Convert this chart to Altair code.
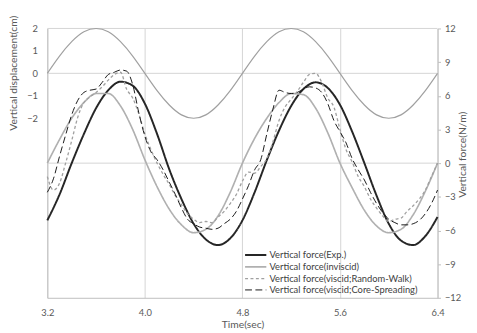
import altair as alt
import pandas as pd

# ---------------- data ----------------
t_coarse = [3.2, 3.3, 3.4, 3.5, 3.6, 3.7, 3.8, 3.9, 4.0, 4.1, 4.2, 4.3, 4.4, 4.5, 4.6, 4.7,
            4.8, 4.9, 5.0, 5.1, 5.2, 5.3, 5.4, 5.5, 5.6, 5.7, 5.8, 5.9, 6.0, 6.1, 6.2, 6.3, 6.4]
t_fine = [round(3.2 + 0.05 * i, 2) for i in range(65)]

displacement = [0.0, 0.77, 1.41, 1.85, 2.0, 1.85, 1.41, 0.77, 0.0, -0.77, -1.41, -1.85, -2.0, -1.85, -1.41, -0.77,
                0.0, 0.77, 1.41, 1.85, 2.0, 1.85, 1.41, 0.77, 0.0, -0.77, -1.41, -1.85, -2.0, -1.85, -1.41, -0.77, 0.0]

force_exp = [-5.1, -2.8, 0.0, 2.6, 4.9, 6.5, 7.26, 6.9, 5.3, 2.6, -0.55, -3.2, -5.4, -6.8, -7.3, -6.7,
             -5.1, -2.6, 0.27, 2.9, 5.1, 6.6, 7.2, 6.7, 5.2, 2.8, 0.0, -2.9, -5.4, -6.9, -7.3, -6.5, -4.8]

force_inviscid = [0.0, 2.1, 4.0, 5.4, 6.2, 6.2, 5.1, 3.0, 0.3, -2.1, -4.1, -5.5, -6.2, -5.9, -4.7, -2.6,
                  0.0, 2.2, 4.0, 5.4, 6.2, 6.1, 4.9, 2.7, 0.0, -2.2, -4.2, -5.6, -6.2, -5.9, -4.6, -2.5, 0.0]

force_random_walk = [-1.2, -2.4, -1.8, 0.0, 2.0, 4.1, 5.4, 5.9, 6.3, 6.8, 7.4, 7.9, 8.1, 6.6, 5.8, 4.4,
                     2.6, 1.2, 0.0, -1.0, -1.9, -2.9, -3.7, -4.5, -5.0, -5.3, -5.2, -5.3, -4.8, -4.3, -3.6, -2.8,
                     -1.6, -0.8, -0.9, -0.3, 0.4, 1.9, 3.8, 5.0, 5.7, 6.4, 7.2, 7.9, 8.0, 7.2, 5.8, 5.0,
                     3.0, 1.2, 0.1, -1.2, -2.1, -3.2, -4.0, -4.7, -5.2, -5.0, -4.9, -4.3, -3.8, -3.2, -2.4, -1.2, 0.0]

force_core_spreading = [-2.6, -1.4, 0.6, 2.5, 4.3, 5.6, 6.3, 6.5, 6.6, 7.2, 7.9, 8.1, 8.3, 8.2, 7.0, 4.5,
                        2.4, 1.0, 0.3, -0.6, -1.7, -2.8, -4.0, -5.0, -5.4, -5.7, -5.8, -5.9, -5.8, -5.4, -5.0, -4.3,
                        -3.2, -2.0, -0.6, 0.3, 2.6, 4.8, 6.5, 6.3, 6.2, 6.3, 6.6, 6.8, 6.7, 6.3, 5.3, 3.8,
                        2.8, 1.8, 0.4, -0.6, -1.5, -2.6, -3.6, -4.4, -5.0, -5.3, -5.5, -5.5, -5.4, -5.1, -4.5, -3.6, -2.4]

series_names = ["Vertical force(Exp.)", "Vertical force(inviscid)",
                "Vertical force(viscid;Random-Walk)", "Vertical force(viscid;Core-Spreading)"]
x_ticks = [3.2, 4.0, 4.8, 5.6, 6.4]
left_ticks = [2, 1, 0, -1, -2]
right_ticks = [-12, -9, -6, -3, 0, 3, 6, 9, 12]
left_grid = [2, 0]
right_grid = [0]

# ---------------- styles ----------------
FONT = "Lato, Liberation Sans, sans-serif"
GRID = "#d4d4d4"
AXIS = "#bfbfbf"
TXT = "#595959"
series_colors = ["#262626", "#b0b0b0", "#a0a0a0", "#1a1a1a"]
series_dash = [[1, 0], [1, 0], [3, 2.5], [7, 3.5]]
series_width = [2.0, 1.0, 1.2, 2.6]

# ---------------- tables ----------------
disp_df = pd.DataFrame({"t": t_coarse, "d": displacement})
parts = [
    pd.DataFrame({"t": t_coarse, "F": force_exp, "series": series_names[0], "o": 0}),
    pd.DataFrame({"t": t_coarse, "F": force_inviscid, "series": series_names[1], "o": 1}),
    pd.DataFrame({"t": t_fine, "F": force_random_walk, "series": series_names[2], "o": 2}),
    pd.DataFrame({"t": t_fine, "F": force_core_spreading, "series": series_names[3], "o": 3}),
]
force_df = pd.concat(parts, ignore_index=True)

x_enc = alt.X("t:Q",
              scale=alt.Scale(domain=[3.2, 6.4], nice=False, zero=False),
              axis=alt.Axis(values=x_ticks, format=".1f", title="Time(sec)", grid=True,
                            gridColor=GRID, tickSize=0, ticks=False, domainColor=AXIS,
                            labelFlush=False, labelPadding=10, titleY=22, titleBaseline="top"))

disp_scale = alt.Scale(domain=[-10, 2], nice=False, zero=False)
force_scale = alt.Scale(domain=[-12, 12], nice=False, zero=False)

disp_grid = alt.Chart(pd.DataFrame({"d": left_grid})).mark_rule(color=GRID, strokeWidth=1).encode(
    y=alt.Y("d:Q", scale=disp_scale, axis=None))
force_grid = alt.Chart(pd.DataFrame({"F": right_grid})).mark_rule(color=GRID, strokeWidth=1).encode(
    y=alt.Y("F:Q", scale=force_scale, axis=None))

disp_line = alt.Chart(disp_df).mark_line(color="#a0a0a0", strokeWidth=1.2, interpolate="natural").encode(
    x=x_enc,
    y=alt.Y("d:Q", scale=disp_scale,
            axis=alt.Axis(orient="left", values=left_ticks, title="Vertical displacement(cm)",
                          grid=False, ticks=False, tickSize=0, labelPadding=10, domainColor=AXIS,
                          labelFlush=False,
                          titleX=-34, titleY=45, titleAngle=-90, titleAlign="center",
                          titleBaseline="middle")))

legend = alt.Legend(title=None, orient="none", legendX=206.5, legendY=225,
                    symbolType="M -2.4 0 L 2.4 0", symbolSize=81, labelOffset=8.5,
                    rowPadding=2, padding=0, labelFont=FONT, labelFontSize=9.5, labelLimit=400,
                    labelColor="#404040", symbolFillColor="transparent")

force_lines = alt.Chart(force_df).mark_line(interpolate="monotone").encode(
    x=x_enc,
    y=alt.Y("F:Q", scale=force_scale,
            axis=alt.Axis(orient="right", values=right_ticks, title="Vertical force(N/m)",
                          grid=False, tickSize=3, tickColor=AXIS, labelPadding=4, domainColor=AXIS,
                          labelFlush=False,
                          titleX=25, titleY=128, titleAngle=-90, titleAlign="center",
                          titleBaseline="middle")),
    color=alt.Color("series:N", scale=alt.Scale(domain=series_names, range=series_colors), legend=legend),
    strokeDash=alt.StrokeDash("series:N", scale=alt.Scale(domain=series_names, range=series_dash), legend=legend),
    strokeWidth=alt.StrokeWidth("series:N", scale=alt.Scale(domain=series_names, range=series_width), legend=legend),
    order="o:Q",
)

chart = alt.layer(disp_grid, force_grid, disp_line, force_lines).resolve_scale(
    y="independent"
).properties(
    width=397, height=274,
    autosize=alt.AutoSizeParams(type="none"),
    padding={"left": 40, "top": 18, "right": 32, "bottom": 33},
).configure(
    font=FONT
).configure_view(
    stroke=None
).configure_axis(
    labelFont=FONT, titleFont=FONT, labelFontSize=9.5, titleFontSize=10.5,
    labelColor=TXT, titleColor=TXT, titleFontWeight="normal",
)

chart.save("out.html", embed_options={"renderer": "svg", "actions": False})
